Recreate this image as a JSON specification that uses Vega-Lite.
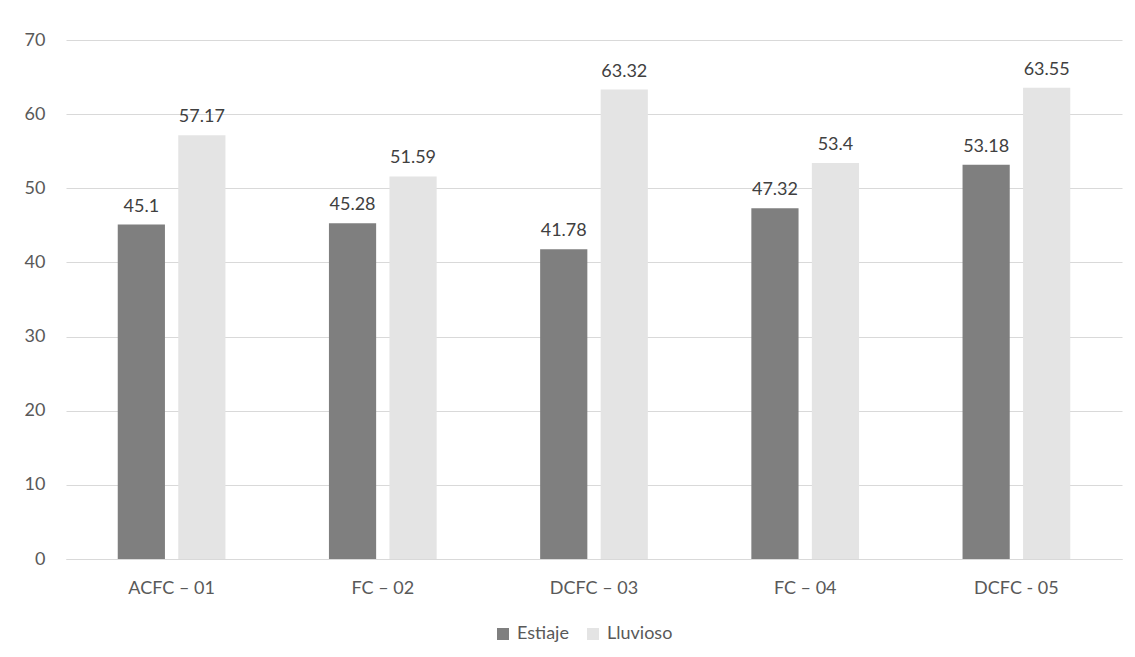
{
  "$schema": "https://vega.github.io/schema/vega-lite/v6.json",
  "width": 1056,
  "height": 519,
  "autosize": {"type": "none"},
  "padding": {"left": 66, "top": 40, "right": 13, "bottom": 98},
  "background": "white",
  "config": {
    "font": "Lato",
    "view": {"stroke": null}
  },
  "data": {
    "values": [
      {"sitio": "ACFC – 01", "temporada": "Estiaje", "valor": 45.1},
      {"sitio": "ACFC – 01", "temporada": "Lluvioso", "valor": 57.17},
      {"sitio": "FC – 02", "temporada": "Estiaje", "valor": 45.28},
      {"sitio": "FC – 02", "temporada": "Lluvioso", "valor": 51.59},
      {"sitio": "DCFC – 03", "temporada": "Estiaje", "valor": 41.78},
      {"sitio": "DCFC – 03", "temporada": "Lluvioso", "valor": 63.32},
      {"sitio": "FC – 04", "temporada": "Estiaje", "valor": 47.32},
      {"sitio": "FC – 04", "temporada": "Lluvioso", "valor": 53.4},
      {"sitio": "DCFC - 05", "temporada": "Estiaje", "valor": 53.18},
      {"sitio": "DCFC - 05", "temporada": "Lluvioso", "valor": 63.55}
    ]
  },
  "encoding": {
    "x": {
      "field": "sitio", "type": "nominal", "sort": null,
      "scale": {"paddingInner": 0.49, "paddingOuter": 0.245},
      "axis": {
        "title": null, "labelAngle": 0, "ticks": false,
        "domainColor": "#d9d9d9", "domainWidth": 1,
        "labelColor": "#595959", "labelFont": "Lato", "labelFontSize": 18, "labelPadding": 20
      }
    },
    "xOffset": {
      "field": "temporada", "type": "nominal",
      "scale": {"domain": ["Estiaje", "Lluvioso"], "paddingInner": 0.22, "paddingOuter": 0}
    },
    "y": {
      "field": "valor", "type": "quantitative",
      "scale": {"domain": [0, 70], "nice": false},
      "axis": {
        "title": null, "values": [0, 10, 20, 30, 40, 50, 60, 70],
        "domain": false, "ticks": false,
        "gridColor": "#d9d9d9", "gridWidth": 1,
        "labelColor": "#595959", "labelFont": "Lato", "labelFontSize": 18, "labelPadding": 21
      }
    }
  },
  "layer": [
    {
      "mark": {"type": "bar"},
      "encoding": {
        "color": {
          "field": "temporada", "type": "nominal",
          "scale": {"domain": ["Estiaje", "Lluvioso"], "range": ["#7f7f7f", "#e4e4e4"]},
          "legend": {
            "title": null, "orient": "none", "direction": "horizontal",
            "legendX": 428, "legendY": 585,
            "symbolType": "square", "symbolSize": 144, "symbolStrokeWidth": 0,
            "labelColor": "#595959", "labelFont": "Lato", "labelFontSize": 18,
            "labelOffset": 5, "columnPadding": 15
          }
        }
      }
    },
    {
      "mark": {"type": "text", "baseline": "alphabetic", "dy": -13, "font": "Lato", "fontSize": 18, "color": "#404040"},
      "encoding": {
        "text": {"field": "valor", "type": "quantitative"}
      }
    }
  ]
}
